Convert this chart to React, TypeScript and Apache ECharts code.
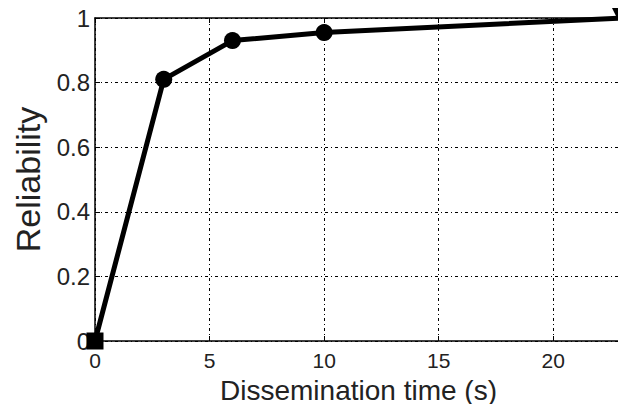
import React, { useEffect, useRef } from "react";
import * as echarts from "echarts";

const times = [0, 3, 6, 10, 23];
const reliability = [0, 0.81, 0.93, 0.955, 1.0];
const markers = ["rect", "circle", "circle", "circle", "triangle"];

export default function App() {
  const ref = useRef<HTMLDivElement>(null);
  useEffect(() => {
    if (!ref.current) return;
    const chart = echarts.init(ref.current, null, { renderer: "svg" });
    const font = "'Liberation Sans', Arial, sans-serif";
    const gridLine = { show: true, lineStyle: { color: "#000", width: 1, type: [3, 3, 1, 3] as any } };
    chart.setOption({
      animation: false,
      backgroundColor: "#fff",
      grid: { left: 95, right: -4, top: 18, bottom: 63, containLabel: false, outerBoundsMode: "none" },
      xAxis: [
        {
          type: "value",
          min: 0,
          max: 23,
          interval: 5,
          name: "Dissemination time (s)",
          nameLocation: "middle",
          nameGap: 19,
          nameTextStyle: { fontFamily: font, fontSize: 28, lineHeight: 30, color: "#222" },
          axisLine: { show: true, lineStyle: { color: "#000", width: 1.5 } },
          axisTick: { show: true, inside: true, length: 5, lineStyle: { color: "#000" } },
          axisLabel: { fontFamily: font, fontSize: 21, color: "#222", margin: 9, showMaxLabel: false },
          splitLine: gridLine,
        },
        {
          type: "value",
          position: "top",
          min: 0,
          max: 23,
          interval: 5,
          axisLine: { show: true, onZero: false, lineStyle: { color: "#000", width: 1.5 } },
          axisTick: { show: true, inside: true, length: 5, lineStyle: { color: "#000" } },
          axisLabel: { show: false },
          splitLine: { show: false },
        },
      ],
      yAxis: {
        type: "value",
        min: 0,
        max: 1,
        interval: 0.2,
        name: "Reliability",
        nameLocation: "middle",
        nameGap: 50,
        nameTextStyle: { fontFamily: font, fontSize: 34, color: "#222" },
        axisLine: { show: true, lineStyle: { color: "#000", width: 1.5 } },
        axisTick: { show: true, inside: true, length: 5, lineStyle: { color: "#000" } },
        axisLabel: { fontFamily: font, fontSize: 24, color: "#222", margin: 5 },
        splitLine: gridLine,
      },
      series: [
        {
          type: "line",
          xAxisIndex: 0,
          data: times.map((t, i) => ({
            value: [t, reliability[i]],
            symbol: markers[i],
            symbolSize: markers[i] === "triangle" ? 20 : 17,
            symbolRotate: markers[i] === "triangle" ? 180 : 0,
          })),
          lineStyle: { color: "#000", width: 5 },
          itemStyle: { color: "#000" },
          clip: false,
        },
      ],
    });
    return () => chart.dispose();
  }, []);
  return <div ref={ref} style={{ position: "fixed", left: 0, top: 0, width: 618, height: 404 }} />;
}
